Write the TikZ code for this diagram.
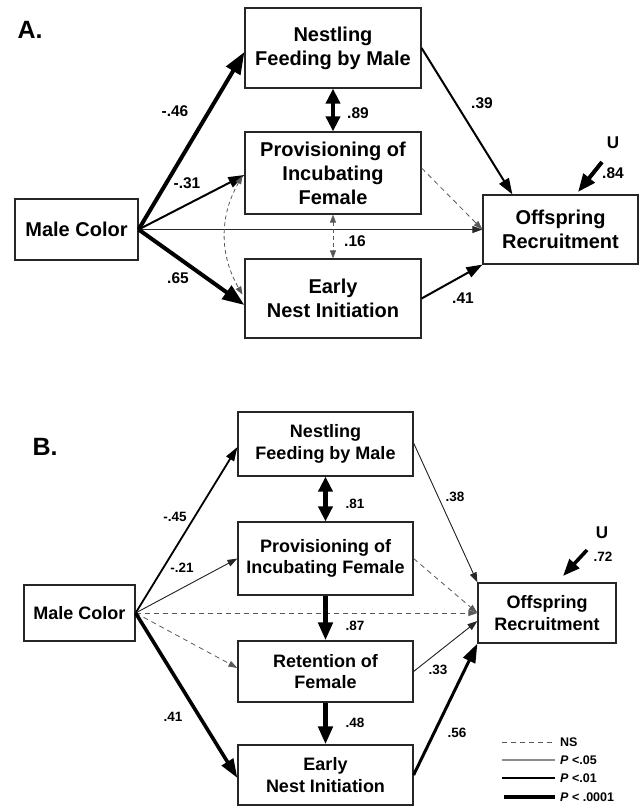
\documentclass[tikz,border=0pt]{standalone}
\usepackage{fontspec}
\setmainfont{Liberation Sans}
\usetikzlibrary{arrows.meta,calc}
\begin{document}
\begin{tikzpicture}[x=1pt,y=-1pt,
  boxA/.style={draw=black!85,line width=1.2pt,align=center,inner sep=0pt,
    font=\fontsize{20}{24}\selectfont\bfseries},
  boxB/.style={draw=black!85,line width=1.2pt,align=center,inner sep=0pt,
    font=\fontsize{18}{21.5}\selectfont\bfseries},
  labA/.style={inner sep=0pt,font=\fontsize{15.5}{17}\selectfont\bfseries},
  labB/.style={inner sep=0pt,font=\fontsize{13.5}{15}\selectfont\bfseries},
  title/.style={inner sep=0pt,font=\fontsize{25}{28}\selectfont\bfseries},
  ulab/.style={inner sep=0pt,font=\fontsize{17}{19}\selectfont\bfseries},
  leg/.style={inner sep=0pt,anchor=west,font=\fontsize{12.5}{14}\selectfont\bfseries},
  thk/.style={line width=4pt,-{Triangle[length=22pt,width=16pt]}},
  thkB/.style={line width=3.6pt,-{Triangle[length=19pt,width=13pt]}},
  med/.style={line width=2pt,-{Triangle[length=16pt,width=11pt]}},
  medB/.style={line width=1.8pt,-{Triangle[length=14pt,width=9pt]}},
  thn/.style={line width=0.9pt,draw=black!85,fill=black!85,-{Triangle[length=10pt,width=7pt]}},
  dsh/.style={line width=0.8pt,draw=black!65,dash pattern=on 5pt off 4pt,-{Triangle[length=9pt,width=6pt]}},
  dbl/.style={line width=4.5pt,{Triangle[length=15pt,width=14pt]}-{Triangle[length=15pt,width=14pt]}},
  dbldsh/.style={line width=0.8pt,draw=black!65,dash pattern=on 4pt off 3pt,{Triangle[length=8pt,width=6pt]}-{Triangle[length=8pt,width=6pt]}}
]
\useasboundingbox (0,0) rectangle (641,807);

% ---------------- Panel A ----------------
\node[title] (tA) at (30,30) {A.};
\node[boxA,minimum width=176pt,minimum height=80pt] (nestA) at (333,48) {Nestling\\Feeding by Male};
\node[boxA,minimum width=176pt,minimum height=82pt] (provA) at (333,173) {Provisioning of\\Incubating\\Female};
\node[boxA,minimum width=176pt,minimum height=79pt] (earlyA) at (333,298.5) {Early\\Nest Initiation};
\node[boxA,minimum width=123pt,minimum height=61pt] (maleA) at (76.5,229.5) {Male Color};
\node[boxA,minimum width=155pt,minimum height=69pt] (offA) at (560.5,229.5) {Offspring\\Recruitment};

\draw[thn] (maleA.east) -- (offA.west);
\draw[thk] (maleA.east) -- ($(nestA.west)+(0,4)$);
\draw[med] (maleA.east) -- ($(provA.west)+(0,2)$);
\draw[thk] (maleA.east) -- ($(earlyA.west)+(0,6.5)$);
\draw[dbldsh] ($(provA.west)+(-2,3)$) to[bend right=30] ($(earlyA.west)+(-2,-4)$);
\draw[dbl] (nestA.south) -- (provA.north);
\draw[dbldsh] (provA.south) -- (earlyA.north);
\draw[med] ($(nestA.east)+(0,0)$) -- ($(offA.north west)+(30,0)$);
\draw[dsh] ($(provA.east)+(0,-5)$) -- (offA.west);
\draw[med] (earlyA.east) -- (offA.south west);

\coordinate (uAs) at (602,162);
\coordinate (uAe) at (578,192);
\draw[thk,-{Triangle[length=18pt,width=14pt]}] (uAs) -- (uAe);
\node[ulab] (uA) at (613,143) {U};
\node[labA] (lA9) at (613,173) {.84};

\node[labA] (lA1) at (175,111) {-.46};
\node[labA] (lA2) at (187,183) {-.31};
\node[labA] (lA3) at (178,278) {.65};
\node[labA] (lA4) at (358,113) {.89};
\node[labA] (lA5) at (355,241) {.16};
\node[labA] (lA6) at (482,103) {.39};
\node[labA] (lA7) at (463,298) {.41};

% ---------------- Panel B ----------------
\node[title] (tB) at (45,447) {B.};
\node[boxB,minimum width=175pt,minimum height=64pt] (nestB) at (325.5,444) {Nestling\\Feeding by Male};
\node[boxB,minimum width=175pt,minimum height=73pt] (provB) at (325.5,558.5) {Provisioning of\\Incubating Female};
\node[boxB,minimum width=175pt,minimum height=61pt] (retB) at (325.5,671.5) {Retention of\\Female};
\node[boxB,minimum width=175pt,minimum height=60pt] (earlyB) at (325.5,775) {Early\\Nest Initiation};
\node[boxB,minimum width=111pt,minimum height=56pt] (maleB) at (79.5,613) {Male Color};
\node[boxB,minimum width=138pt,minimum height=60pt] (offB) at (547,613) {Offspring\\Recruitment};

\draw[dsh] (maleB.east) -- (offB.west);
\draw[medB] (maleB.east) -- ($(nestB.west)+(0,3)$);
\draw[thn] (maleB.east) -- (provB.west);
\draw[dsh] (maleB.east) -- ($(retB.west)+(0,-3.5)$);
\draw[thkB] (maleB.east) -- ($(earlyB.west)+(0,3)$);
\draw[dbl] (nestB.south) -- (provB.north);
\draw[thkB,-{Triangle[length=18pt,width=14pt]},line width=4.5pt] (provB.south) -- (retB.north);
\draw[thkB,-{Triangle[length=18pt,width=14pt]},line width=4.5pt] (retB.south) -- (earlyB.north);
\draw[thn] ($(nestB.east)+(0,-1)$) -- (offB.north west);
\draw[dsh] (provB.east) -- (offB.west);
\draw[thn] (retB.east) -- ($(offB.west)+(0,8)$);
\draw[thkB,line width=3pt] (earlyB.east) -- (offB.south west);

\coordinate (uBs) at (587,550);
\coordinate (uBe) at (563,576);
\draw[thkB,-{Triangle[length=17pt,width=13pt]}] (uBs) -- (uBe);
\node[ulab] (uB) at (602,533) {U};
\node[labB] (lB9) at (603,557) {.72};

\node[labB] (lB1) at (175,517) {-.45};
\node[labB] (lB2) at (182,568) {-.21};
\node[labB] (lB3) at (173,717) {.41};
\node[labB] (lB4) at (355,504) {.81};
\node[labB] (lB5) at (355,626) {.87};
\node[labB] (lB6) at (355,723) {.48};
\node[labB] (lB7) at (455,497) {.38};
\node[labB] (lB8) at (438,670) {.33};
\node[labB] (lB10) at (457,733) {.56};

% ---------------- Legend ----------------
\coordinate (g1a) at (502,742); \coordinate (g1b) at (555,742);
\coordinate (g2a) at (502,760); \coordinate (g2b) at (555,760);
\coordinate (g3a) at (502,778); \coordinate (g3b) at (555,778);
\coordinate (g4a) at (504,797); \coordinate (g4b) at (555,797);
\draw[line width=0.8pt,draw=black!65,dash pattern=on 5pt off 4pt] (g1a) -- (g1b);
\draw[line width=1.1pt,draw=black!45] (g2a) -- (g2b);
\draw[line width=2pt] (g3a) -- (g3b);
\draw[line width=4pt] (g4a) -- (g4b);
\node[leg] (t1) at (560,742) {NS};
\node[leg] (t2) at (560,760) {\textit{P} <.05};
\node[leg] (t3) at (560,778) {\textit{P} <.01};
\node[leg] (t4) at (560,797) {\textit{P} < .0001};
\end{tikzpicture}
\end{document}
